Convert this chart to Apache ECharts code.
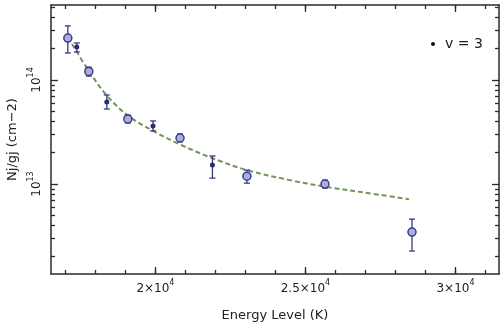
<!DOCTYPE html>
<html>
<head>
<meta charset="utf-8">
<script src="https://cdn.jsdelivr.net/npm/echarts@6/dist/echarts.min.js"></script>
<style>
html,body{margin:0;padding:0;background:#fff;}
#chart{width:501px;height:334px;}
</style>
</head>
<body>
<div id="chart"></div>
<script>
// ---- data ----
const openX  = [17080, 17780, 19080, 20820, 23050, 25650, 28550];
const openY  = [2.53e14, 1.21e14, 4.22e13, 2.77e13, 1.19e13, 1.00e13, 3.45e12];
const openLo = [1.82e14, 1.09e14, 3.86e13, 2.54e13, 1.02e13, 9.16e12, 2.27e12];
const openHi = [3.31e14, 1.33e14, 4.60e13, 3.03e13, 1.36e13, 1.09e13, 4.60e12];

const filledX  = [17380, 18380, 19920, 21900];
const filledY  = [2.08e14, 6.14e13, 3.61e13, 1.52e13];
const filledLo = [1.86e14, 5.26e13, 3.24e13, 1.14e13];
const filledHi = [2.27e14, 7.18e13, 4.04e13, 1.86e13];

const fitX = [17220, 17780, 18380, 19080, 19920, 20820, 21880, 23050, 24480, 25650, 27480, 28450];
const fitY = [2.22e14, 1.22e14, 7.10e13, 4.56e13, 3.24e13, 2.40e13, 1.78e13, 1.36e13, 1.09e13, 9.44e12, 7.87e12, 7.15e12];

const xMajorTicks = [20000, 25000, 30000];
const xMajorMantissa = ['2', '2.5', '3'];
const xExponent = '4';
const xMinorTicks = [17000,18000,19000,20000,21000,22000,23000,24000,25000,26000,27000,28000,29000,30000,31000];
const yMajorExponents = [13, 14];
const legendName = 'v = 3';
const xName = 'Energy Level (K)';
const yName = 'Nj/gj (cm\u22122)';

// ---- layout / style ----
const FONT = 'DejaVu Sans';
const TXT = '#222';
const AX = '#2a2a2a';
const BAR = '#3a3a80';
const xMin = 16520, xMax = 31450;
const yMin = 12.135, yMax = 14.721;

const lg = Math.log10;
const yMajor = yMajorExponents.slice();
const yMinor = [];
for (let n = 12; n <= 14; n++) for (let k = 2; k <= 9; k++) {
  const v = lg(k) + n;
  if (v > yMin && v < yMax) yMinor.push(v);
}

const richX = {
  b: {fontFamily: FONT, fontSize: 12, color: TXT, lineHeight: 16, verticalAlign: 'bottom'},
  s: {fontFamily: FONT, fontSize: 8, color: TXT, lineHeight: 8, verticalAlign: 'top'}
};

function xAx(pos, ticks, len, showLine, label) {
  return {
    type: 'value', min: xMin, max: xMax, position: pos,
    axisLine: {show: showLine, onZero: false, lineStyle: {color: AX, width: 1.5}},
    axisTick: {show: true, inside: true, length: len, customValues: ticks, lineStyle: {color: AX, width: 1.3}},
    axisLabel: label || {show: false},
    splitLine: {show: false}
  };
}
function yAx(pos, ticks, len, showLine, label) {
  return {
    type: 'value', min: yMin, max: yMax, position: pos,
    axisLine: {show: showLine, onZero: false, lineStyle: {color: AX, width: 1.5}},
    axisTick: {show: true, inside: true, length: len, customValues: ticks, lineStyle: {color: AX, width: 1.3}},
    axisLabel: label || {show: false},
    splitLine: {show: false}
  };
}

const xAxisMain = xAx('bottom', xMinorTicks, 4, true, {
  show: true, customValues: xMajorTicks, margin: 5,
  formatter: function (v) {
    const i = xMajorTicks.findIndex(t => Math.abs(t - v) < 1e-6);
    return '{b|' + xMajorMantissa[i] + '×10}{s|' + xExponent + '}';
  },
  rich: richX
});
xAxisMain.name = xName;
xAxisMain.nameLocation = 'middle';
xAxisMain.nameGap = 35;
xAxisMain.nameTextStyle = {fontFamily: FONT, fontSize: 13, color: TXT};

const yAxisMain = yAx('left', yMinor, 4, true, {
  show: true, customValues: yMajor, rotate: 90, margin: 8,
  formatter: function (v) { return '{b|10}{s|' + Math.round(v) + '}'; },
  rich: richX
});
yAxisMain.name = yName;
yAxisMain.nameLocation = 'middle';
yAxisMain.nameRotate = 90;
yAxisMain.nameGap = 29;
yAxisMain.nameTextStyle = {fontFamily: FONT, fontSize: 13, color: TXT};

function bars(xs, lo, hi) { return xs.map((x, i) => [x, lg(lo[i]), lg(hi[i])]); }
const barData = bars(openX, openLo, openHi).concat(bars(filledX, filledLo, filledHi));

const option = {
  animation: false,
  backgroundColor: '#fff',
  grid: {left: 51, right: 2, top: 5, bottom: 60, containLabel: false, outerBoundsMode: 'none'},
  xAxis: [
    xAxisMain,
    xAx('bottom', xMajorTicks, 7, false),
    xAx('top', xMinorTicks, 4, true),
    xAx('top', xMajorTicks, 7, false)
  ],
  yAxis: [
    yAxisMain,
    yAx('left', yMajor, 7, false),
    yAx('right', yMinor, 4, true),
    yAx('right', yMajor, 7, false)
  ],
  legend: {
    show: true, orient: 'vertical', left: 426, top: 32,
    itemWidth: 14, itemHeight: 4, itemGap: 0,
    data: [{name: legendName, icon: 'circle', itemStyle: {color: '#111', borderWidth: 0}}],
    textStyle: {fontFamily: FONT, fontSize: 14, color: TXT},
    selectedMode: false
  },
  series: [
    {
      name: 'fit', type: 'line', smooth: 0.35, showSymbol: false, z: 1,
      data: fitX.map((x, i) => [x, lg(fitY[i])]),
      lineStyle: {color: '#72955a', width: 2, type: [5, 3]}
    },
    {
      name: 'err', type: 'custom', z: 2,
      data: barData, encode: {x: 0, y: [1, 2]},
      renderItem: function (params, api) {
        const x = api.value(0);
        const a = api.coord([x, api.value(1)]);
        const b = api.coord([x, api.value(2)]);
        const c = 3;
        const st = {stroke: BAR, lineWidth: 1.3};
        return {type: 'group', children: [
          {type: 'line', shape: {x1: a[0], y1: a[1], x2: b[0], y2: b[1]}, style: st},
          {type: 'line', shape: {x1: a[0] - c, y1: a[1], x2: a[0] + c, y2: a[1]}, style: st},
          {type: 'line', shape: {x1: b[0] - c, y1: b[1], x2: b[0] + c, y2: b[1]}, style: st}
        ]};
      }
    },
    {
      name: 'open', type: 'scatter', z: 3, symbol: 'circle', symbolSize: 8,
      data: openX.map((x, i) => [x, lg(openY[i])]),
      itemStyle: {color: '#aab0de', borderColor: '#3c3c8c', borderWidth: 1.5, opacity: 1}
    },
    {
      name: legendName, type: 'scatter', z: 4, symbol: 'circle', symbolSize: 5,
      data: filledX.map((x, i) => [x, lg(filledY[i])]),
      itemStyle: {color: '#2c2c70', opacity: 1}
    }
  ]
};

const chart = echarts.init(document.getElementById('chart'), null, {renderer: 'canvas'});
chart.setOption(option);
</script>
</body>
</html>
